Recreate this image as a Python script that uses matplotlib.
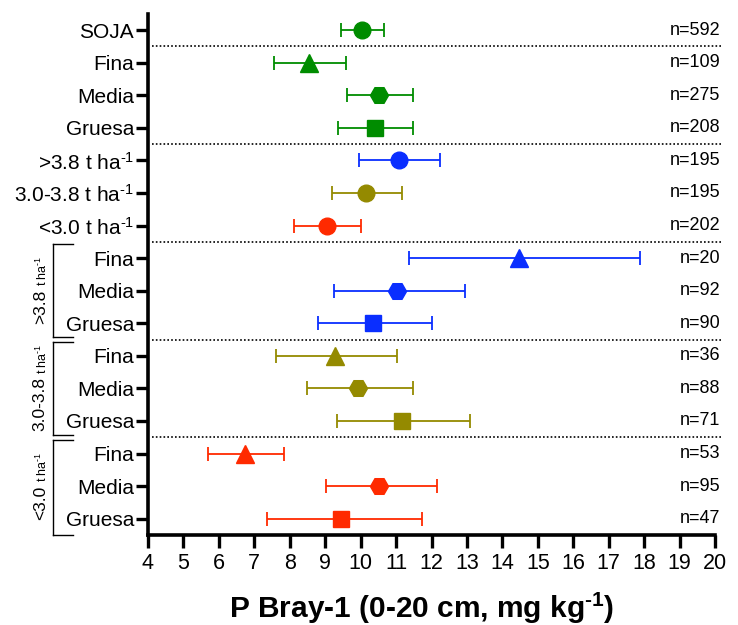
import matplotlib.pyplot as plt
from matplotlib.lines import Line2D

plt.rcParams['font.family'] = ['Liberation Sans', 'DejaVu Sans']
plt.rcParams['mathtext.fontset'] = 'custom'
plt.rcParams['mathtext.rm'] = 'Liberation Sans'
plt.rcParams['mathtext.it'] = 'Liberation Sans'
plt.rcParams['mathtext.bf'] = 'Liberation Sans:bold'

# data
labels = ['SOJA', 'Fina', 'Media', 'Gruesa',
          '>3.8 t ha$^{\u20101}$', '3.0-3.8 t ha$^{\u20101}$', '<3.0 t ha$^{\u20101}$',
          'Fina', 'Media', 'Gruesa',
          'Fina', 'Media', 'Gruesa',
          'Fina', 'Media', 'Gruesa']
means = [10.04, 8.55, 10.53, 10.41, 11.07, 10.16, 9.05,
         14.47, 11.03, 10.34, 9.28, 9.93, 11.17, 6.74, 10.53, 9.44]
low = [9.45, 7.55, 9.61, 9.35, 9.95, 9.18, 8.13,
       11.37, 9.25, 8.79, 7.61, 8.49, 9.33, 5.69, 9.01, 7.35]
high = [10.66, 9.59, 11.49, 11.47, 12.23, 11.16, 10.0,
        17.88, 12.94, 12.01, 11.03, 11.48, 13.09, 7.83, 12.15, 11.72]
n_obs = [592, 109, 275, 208, 195, 195, 202, 20, 92, 90, 36, 88, 71, 53, 95, 47]

green = '#008c00'
blue = '#0a2eff'
olive = '#948a00'
red = '#ff2a00'
colors = [green, green, green, green, blue, olive, red,
          blue, blue, blue, olive, olive, olive, red, red, red]
markers = ['o', '^', 'H', 's', 'o', 'o', 'o',
           '^', 'H', 's', '^', 'H', 's', '^', 'H', 's']
msizes = {'o': 12, '^': 12.5, 'H': 13, 's': 11.5}

separators = [0.5, 3.5, 6.5, 9.5, 12.5]

fig = plt.figure(figsize=(7.38, 6.25), dpi=100)
ax = fig.add_axes([0.2005, 0.144, 0.7685, 0.834])

for i in range(len(means)):
    ax.errorbar(means[i], i, xerr=[[means[i] - low[i]], [high[i] - means[i]]],
                fmt=markers[i], color=colors[i], ms=msizes[markers[i]],
                elinewidth=1.3, capsize=5, capthick=1.3, clip_on=False, zorder=3)
    ax.text(1.0095, i, 'n=%d' % n_obs[i], transform=ax.get_yaxis_transform(),
            ha='right', va='center', fontsize=13)

trans = ax.get_yaxis_transform()
for s in separators:
    ax.plot([0.007, 1.01], [s, s], transform=trans, color='black',
            lw=1.2, ls=(0, (1, 1.3)), clip_on=False)

ax.set_xlim(4, 20)
ax.set_ylim(15.5, -0.5)
ax.set_xticks(range(4, 21))
ax.set_yticks(range(len(labels)))
ax.set_yticklabels(labels)
ax.tick_params(axis='both', width=2.4, length=9, labelsize=15, pad=1)
ax.tick_params(axis='x', labelsize=15.5, pad=4)
for side in ['top', 'right']:
    ax.spines[side].set_visible(False)
for side in ['left', 'bottom']:
    ax.spines[side].set_linewidth(2.6)

ax.set_xlabel('P Bray-1 (0-20 cm, mg kg$^{\\mathbf{\u20101}}$)', fontsize=21.5,
              fontweight='bold', labelpad=12)
ax.xaxis.label.set_x(0.482)

# group brackets on the left
bx0, bx1 = -0.167, -0.132
groups = [(6.57, 9.42, '>3.8', 9.01),
          (9.58, 12.42, '3.0-3.8', 12.31),
          (12.58, 15.49, '<3.0', 15.03)]
fig.canvas.draw()
renderer = fig.canvas.get_renderer()
for y0, y1, name, ybig in groups:
    for xs, ys in (([bx0, bx0], [y0, y1]), ([bx0, bx1], [y0, y0]), ([bx0, bx1], [y1, y1])):
        ax.add_line(Line2D(xs, ys, transform=trans, color='black',
                           lw=1.0, clip_on=False))
    big = ax.text(-0.19, ybig, name, transform=trans, rotation=90,
                  rotation_mode='anchor', ha='left', va='center', fontsize=12.5)
    top_px = big.get_window_extent(renderer).y1 + 3
    ysmall = ax.transData.inverted().transform((0, top_px))[1]
    ax.text(-0.186, ysmall, 't ha$^{\u20101}$', transform=trans, rotation=90,
            rotation_mode='anchor', ha='left', va='center', fontsize=9)

fig.savefig('out.png', dpi=100)
